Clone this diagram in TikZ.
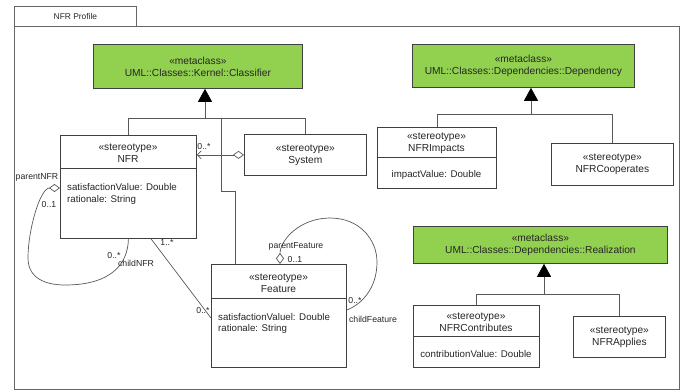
\documentclass[tikz,border=0pt]{standalone}
\usepackage{fontspec}
\setmainfont{Liberation Sans}
\usetikzlibrary{arrows.meta}
\definecolor{mgreen}{HTML}{92D050}
\definecolor{bord}{HTML}{404040}
\definecolor{connc}{HTML}{585858}
\begin{document}
\begin{tikzpicture}[x=1pt,y=-1pt,
  box/.style={draw=bord, line width=0.8pt, fill=white, inner sep=0pt, anchor=north west,
    font=\fontsize{10.2}{12}\selectfont, align=center, text=black!85},
  meta/.style={box, fill=mgreen},
  txt/.style={font=\fontsize{10.2}{12}\selectfont, align=center, inner sep=0pt, text=black!85},
  attr/.style={font=\fontsize{9.7}{11.5}\selectfont, align=left, inner sep=0pt, anchor=west, text=black!85},
  lbl/.style={font=\fontsize{8.7}{10}\selectfont, inner sep=0pt, text=black!85},
  divider/.style={draw=bord, line width=0.8pt},
  conn/.style={draw=connc, line width=0.7pt},
  gentip/.style={conn, -{Triangle[width=14pt,length=13pt,black]}},
  agg/.style={{Diamond[open,length=11pt,width=8pt]}-}
]
\useasboundingbox (0,0) rectangle (687,391);
% package frame
\draw[draw=bord!80, line width=0.8pt] (14,26) rectangle (679,389);
\node[box, draw=bord!80, minimum width=122pt, minimum height=20pt, font=\fontsize{8.4}{10}\selectfont] (tab) at (14,6) {NFR Profile};

% metaclasses
\node[meta, minimum width=209pt, minimum height=44pt] (cls) at (93,44) {«metaclass»\\UML::Classes::Kernel::Classifier};
\node[meta, minimum width=222pt, minimum height=43pt] (dep) at (412,44) {«metaclass»\\UML::Classes::Dependencies::Dependency};
\node[meta, minimum width=254pt, minimum height=37pt] (real) at (413,226) {«metaclass»\\UML::Classes::Dependencies::Realization};

% stereotypes
\node[box, minimum width=136pt, minimum height=103pt] (nfr) at (60,135) {};
\node[txt] (nfrT) at (128,153.5) {«stereotype»\\NFR};
\draw[divider] (nfr.west |- 0,168) -- (nfr.east |- 0,168);
\node[attr] (nfrA) at (67,194) {satisfactionValue: Double\\rationale: String};

\node[box, minimum width=122pt, minimum height=41pt] (sys) at (244,134) {«stereotype»\\System};

\node[box, minimum width=135pt, minimum height=103pt] (feat) at (211,264) {};
\node[txt] (featT) at (278.5,283) {«stereotype»\\Feature};
\draw[divider] (feat.west |- 0,298) -- (feat.east |- 0,298);
\node[attr] (featA) at (218,323.5) {satisfactionValuel: Double\\rationale: String};

\node[box, minimum width=119pt, minimum height=61pt] (imp) at (377,127) {};
\node[txt] (impT) at (436.5,143) {«stereotype»\\NFRImpacts};
\draw[divider] (imp.west |- 0,157) -- (imp.east |- 0,157);
\node[txt, font=\fontsize{9.7}{11.5}\selectfont] (impA) at (436.5,175) {impactValue: Double};

\node[box, minimum width=122pt, minimum height=42pt] (cop) at (551,143) {«stereotype»\\NFRCooperates};

\node[box, minimum width=126pt, minimum height=62pt] (con) at (413,305) {};
\node[txt] (conT) at (476,322.5) {«stereotype»\\NFRContributes};
\draw[divider] (con.west |- 0,336) -- (con.east |- 0,336);
\node[txt, font=\fontsize{9.7}{11.5}\selectfont] (conA) at (476,354) {contributionValue: Double};

\node[box, minimum width=92pt, minimum height=41pt] (app) at (573,316) {«stereotype»\\NFRApplies};

% generalizations to Classifier
\draw[conn] (nfr.north) |- (sys.north |- 0,118) -- (sys.north);
\draw[conn] (feat.north west) ++(24,0) -- ++(0,-73) -- ++(-14,0) -- (221,118);
\draw[gentip] (205,118) -- (cls.south -| 205,0);

% generalizations to Dependency
\draw[conn] (imp.north) |- (cop.north |- 0,114) -- (cop.north);
\draw[gentip] (531,114) -- (dep.south -| 531,0);

% generalizations to Realization
\draw[conn] (con.north) |- (app.north |- 0,294) -- (app.north);
\draw[gentip] (544,294) -- (real.south -| 544,0);

% aggregation System -> NFR
\draw[conn, {Diamond[open,length=11pt,width=8pt]}-{Straight Barb[length=4pt,width=8pt]}] (sys.west) -- (sys.west -| nfr.east);
\node[lbl] (l1) at (204,147) {0..*};

% NFR self aggregation
\draw[conn, agg] (nfr.west |- 0,188) .. controls (40,188) and (28,230) .. (28,258)
  .. controls (28,278) and (45,285) .. (65,285)
  .. controls (110,285) and (128,265) .. (nfr.south);
\node[lbl] (l2) at (37,177) {parentNFR};
\node[lbl] (l3) at (49,205) {0..1};
\node[lbl] (l4) at (114,255) {0..*};
\node[lbl] (l5) at (136,263) {childNFR};

% NFR - Feature association
\draw[conn] (nfr.south -| 151,0) -- (feat.west |- 0,318);
\node[lbl] (l6) at (167,243) {1..*};
\node[lbl] (l7) at (203,310) {0..*};

% Feature self aggregation
\draw[conn, agg] (feat.north -| 280,0) .. controls (280,240) and (300,218) .. (330,218)
  .. controls (360,218) and (377,240) .. (377,262)
  .. controls (377,290) and (360,305) .. (feat.east |- 0,310);
\node[lbl] (l8) at (296,246) {parentFeature};
\node[lbl] (l9) at (295,259) {0..1};
\node[lbl] (l10) at (355,300) {0..*};
\node[lbl] (l11) at (373,319) {childFeature};
\end{tikzpicture}
\end{document}
